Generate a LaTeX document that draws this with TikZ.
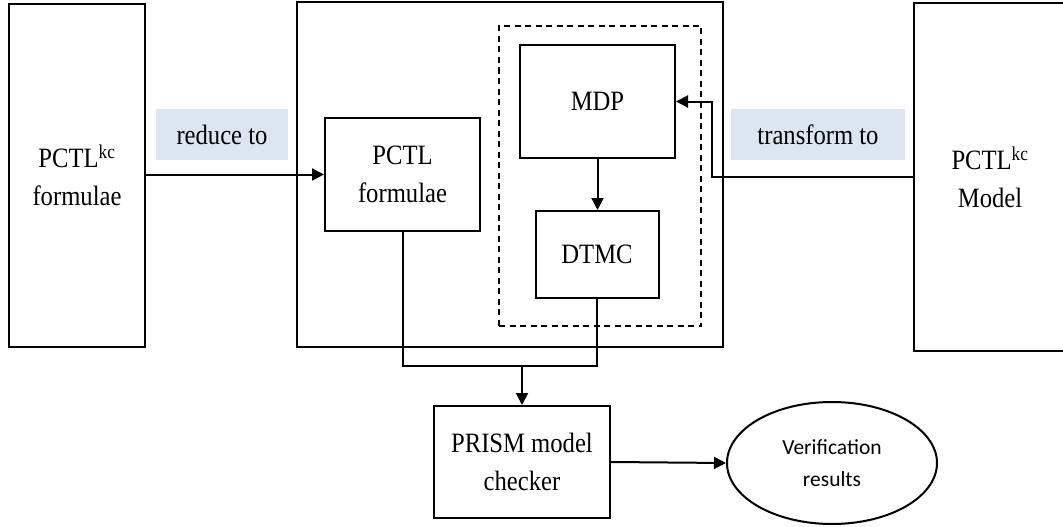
\documentclass[tikz,border=0pt]{standalone}
\usepackage{fontspec}
\setmainfont{Liberation Serif}[FakeStretch=0.88]
\newfontfamily\calibrilike{Carlito}
\usetikzlibrary{arrows.meta,shapes.geometric}
\definecolor{labelblue}{RGB}{220,230,242}
\tikzset{
  box/.style={draw, line width=2pt, rectangle, inner sep=0pt, align=center,
    font=\fontsize{28}{38}\selectfont},
  tag/.style={fill=labelblue, inner sep=0pt, align=center,
    font=\fontsize{28}{38}\selectfont},
  wire/.style={line width=2pt},
  flow/.style={wire, -{Triangle[length=12pt,width=12pt]}},
}
\newcommand{\kcsup}{\textsuperscript{kc}}
\begin{document}
\begin{tikzpicture}[x=1pt,y=-1pt]
  \useasboundingbox (0,0) rectangle (1063,527);
  % outer frames
  \node[box, minimum width=136pt, minimum height=343pt] (formulae) at (77,175.5) {PCTL\kcsup\\formulae};
  \node[box, minimum width=426pt, minimum height=345pt] (frame) at (510,174.5) {};
  \node[box, minimum width=152pt, minimum height=348pt] (model) at (990,177) {PCTL\kcsup\\Model};
  % inner blocks
  \node[box, minimum width=155pt, minimum height=113pt] (pctl) at (402.5,174.5) {PCTL\\formulae};
  \node[draw, line width=2pt, dash pattern=on 6pt off 4.5pt, minimum width=202pt, minimum height=300pt, inner sep=0pt] (group) at (600,176) {};
  \node[box, minimum width=155pt, minimum height=113pt] (mdp) at (597.5,101.5) {MDP};
  \node[box, minimum width=123pt, minimum height=87pt] (dtmc) at (597,254.5) {DTMC};
  % lower blocks
  \node[box, minimum width=176pt, minimum height=112pt] (prism) at (522,462) {PRISM model\\checker};
  \node[draw, ellipse, line width=2pt, minimum width=210pt, minimum height=122pt, inner sep=0pt, align=center,
    font=\calibrilike\fontsize{21.5}{32}\selectfont] (result) at (832,463) {Verification\\results};
  % edge labels
  \node[tag, minimum width=132pt, minimum height=51pt] (reduce) at (222,134.5) {reduce to};
  \node[tag, minimum width=174pt, minimum height=51pt] (transform) at (818,134.5) {transform to};
  % connectors
  \draw[flow] (formulae.east |- pctl.west) -- (pctl.west);
  \coordinate (bend) at (712,177);
  \draw[flow] (model.west |- bend) -- (bend) |- (mdp.east);
  \draw[flow] (mdp.south) -- (mdp.south |- dtmc.north);
  \coordinate (join) at (522,366);
  \draw[wire] (pctl.south) |- (join);
  \draw[wire] (dtmc.south) |- (join);
  \draw[flow] (join) -- (prism.north);
  \draw[flow] (prism.east) -- (result.west);
\end{tikzpicture}
\end{document}
